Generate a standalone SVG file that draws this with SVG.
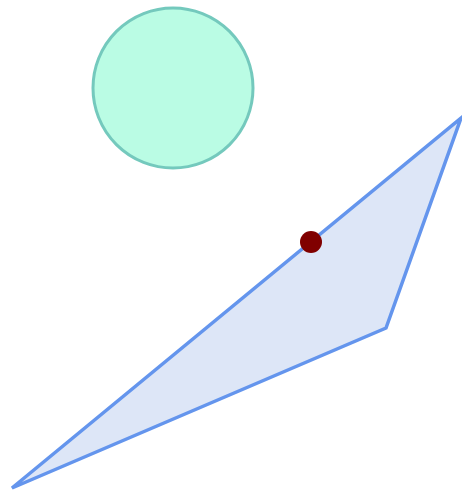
<svg xmlns="http://www.w3.org/2000/svg" width="462" height="495" viewBox="0 0 462 495">
<rect width="462" height="495" fill="#ffffff"/>
<g id="circle">
<circle cx="173" cy="88" r="80" fill="#bafce4" stroke="#74c9bd" stroke-width="3"/>
</g>
<g id="triangle">
<polygon points="12,488 461,118 386,328" fill="#dde6f7" stroke="#6495ed" stroke-width="3.5" stroke-linejoin="miter"/>
</g>
<g id="point">
<circle cx="311" cy="242" r="11" fill="#800000"/>
</g>
</svg>
